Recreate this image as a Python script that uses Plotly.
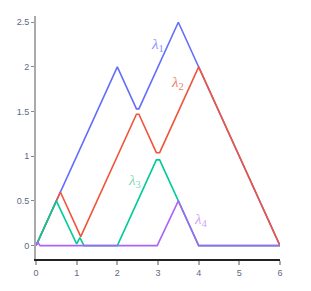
import plotly.graph_objects as go

# Persistence landscape functions (breakpoints)
l1_x = [0, 2, 2.47, 2.53, 3.5, 4, 6]
l1_y = [0, 2, 1.53, 1.53, 2.5, 2, 0]

l2_x = [0, 0.6, 1.1, 2.47, 2.53, 2.96, 3.04, 4, 6]
l2_y = [0, 0.6, 0.1, 1.47, 1.47, 1.04, 1.04, 2, 0]

l3_x = [0, 0.5, 1.0, 1.08, 1.18, 2, 2.96, 3.04, 3.5, 4, 6]
l3_y = [0, 0.5, 0.02, 0.09, 0, 0, 0.96, 0.96, 0.5, 0, 0]

l4_x = [0, 0.04, 0.1, 2.98, 3.5, 4, 6]
l4_y = [0, 0.04, 0, 0, 0.5, 0, 0]

series = [
    ("λ1", l1_x, l1_y, "#636efa"),
    ("λ2", l2_x, l2_y, "#EF553B"),
    ("λ3", l3_x, l3_y, "#00cc96"),
    ("λ4", l4_x, l4_y, "#ab63fa"),
]

label_text = ["<i>λ</i><sub>1</sub>", "<i>λ</i><sub>2</sub>", "<i>λ</i><sub>3</sub>", "<i>λ</i><sub>4</sub>"]
label_x = [2.98, 3.47, 2.43, 4.05]
label_y = [2.25, 1.82, 0.72, 0.29]
label_colors = ["#8a91fb", "#f27a66", "#7fd9b4", "#cf9ff9"]

x_ticks = [0, 1, 2, 3, 4, 5, 6]
y_ticks = [0, 0.5, 1, 1.5, 2, 2.5]
y_ticktext = ["0", "0.5", "1", "1.5", "2", "2.5"]

fig = go.Figure()
for name, xs, ys, c in series:
    fig.add_trace(go.Scatter(x=xs, y=ys, mode="lines", name=name,
                             line=dict(color=c, width=1.6), hoverinfo="skip"))

for t, x, y, c in zip(label_text, label_x, label_y, label_colors):
    fig.add_annotation(x=x, y=y, text=t, showarrow=False,
                       font=dict(family="Liberation Serif", size=15, color=c))

fig.update_layout(
    width=303, height=283,
    margin=dict(l=28, r=31, t=8, b=32, autoexpand=False),
    paper_bgcolor="white", plot_bgcolor="white",
    showlegend=False,
    font=dict(family="Liberation Sans Narrow, Liberation Sans", size=9, color="#5b6a85"),
)
fig.update_xaxes(range=[0, 6], tickvals=x_ticks, showgrid=False, zeroline=False,
                 automargin=False,
                 showline=True, linecolor="#222", linewidth=1.5,
                 ticks="outside", ticklen=4, tickcolor="#aaa", tickwidth=1.5,
                 tickfont=dict(size=9, color="#5b6a85"))
fig.update_yaxes(range=[-0.15, 2.57], tickvals=y_ticks, ticktext=y_ticktext,
                 showgrid=False, zeroline=False, automargin=False,
                 showline=True, linecolor="#aaa", linewidth=2,
                 ticks="outside", ticklen=3, tickcolor="#888", tickwidth=1,
                 tickfont=dict(size=9, color="#5b6a85"))

fig.write_html("out.html")
